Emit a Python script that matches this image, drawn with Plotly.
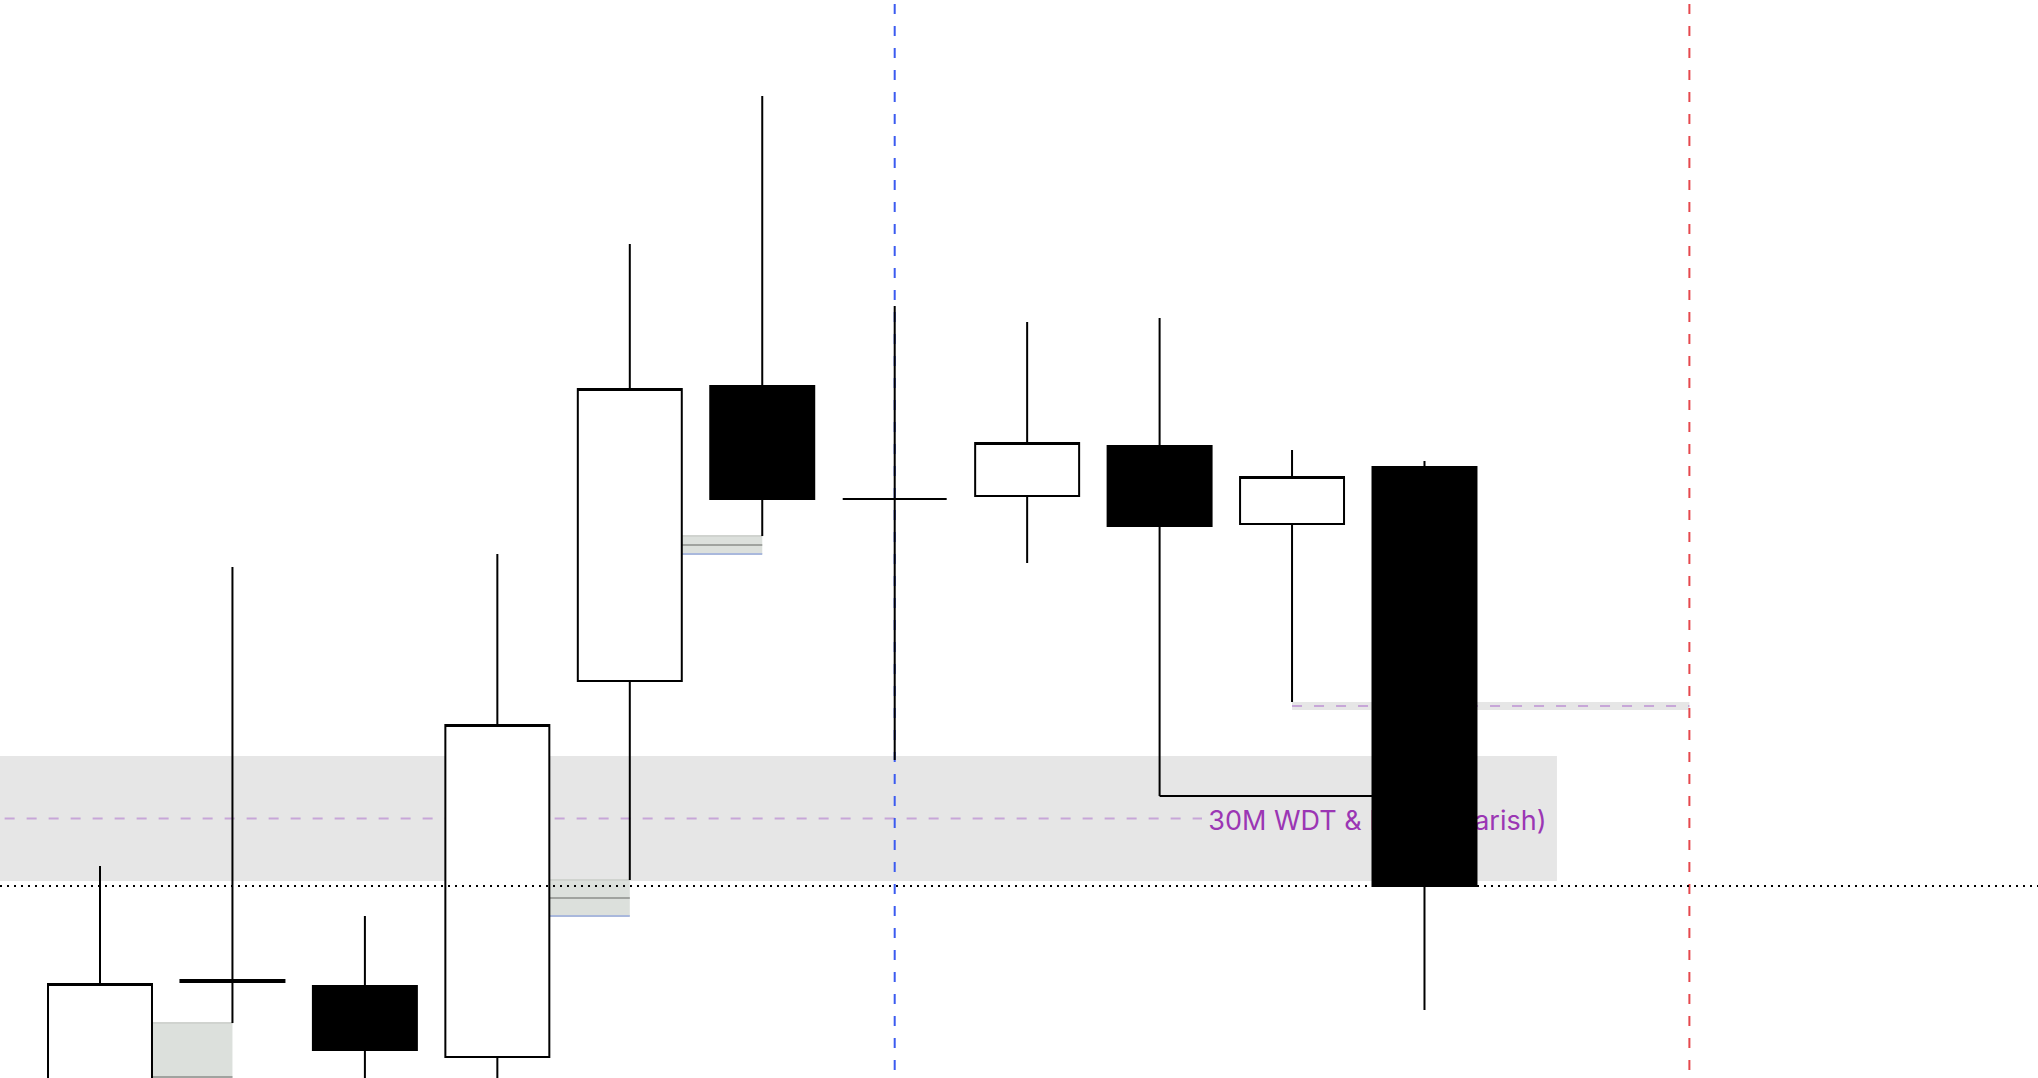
import plotly.graph_objects as go

# ---- data (30-minute candles; first one lies off the left edge) ----
times  = ["08:00", "08:30", "09:00", "09:30", "10:00", "10:30",
          "11:00", "11:30", "12:00", "12:30", "13:00", "13:30"]
opens  = [18005.0, 18020.5, 18055.0, 18053.5, 18035.75, 18129.75,
          18203.5, 18175.25, 18176.0, 18188.5, 18169.0, 18183.25]
highs  = [18017.25, 18083.5, 18158.25, 18071.0, 18161.5, 18239.0,
          18276.0, 18223.5, 18219.5, 18220.5, 18187.5, 18184.75]
lows   = [17990.0, 18005.0, 18044.25, 18025.0, 18022.0, 18080.0,
          18166.0, 18110.0, 18159.25, 18101.0, 18124.5, 18047.5]
closes = [18012.0, 18054.0, 18054.5, 18037.5, 18118.75, 18202.75,
          18175.25, 18175.25, 18189.25, 18168.5, 18180.75, 18078.5]

zone_low, zone_high = 18079.75, 18111.0          # 30M WDT & FVG zone
zone_label = "30M WDT & FVG (Bearish)"
dotted_level = 18078.5                            # dotted horizontal level
sweep_candle = 9                                  # low swept by last candle
level_candle = 10                                 # low marked with dashed band
session_bar = 7                                   # blue vertical marker (bar number)
end_bar = 13                                      # red vertical marker (bar number)

xpos = list(range(-1, len(times) - 1))
n = len(times)


def bar_x(b):
    return xpos[0] + b


# ---- layout helpers ----
body_half = 0.3925
x_left, x_right = -0.755, 14.632
y_bottom, y_top = 18030.5, 18300.0

shapes = []

# big grey zone + dashed midline
zone_mid = (zone_low + zone_high) / 2
zone_end = xpos[-1] + 1
shapes.append(dict(type="rect", xref="x", yref="y", x0=-2, x1=zone_end,
                   y0=zone_low, y1=zone_high, fillcolor="#e6e6e6",
                   line=dict(width=0), layer="below"))
shapes.append(dict(type="line", xref="x", yref="y", x0=-0.72, x1=8.32,
                   y0=zone_mid, y1=zone_mid, layer="below",
                   line=dict(color="#c7a6d8", width=2, dash="10px,12px")))

# bullish fair value gaps computed from the candles
for i in range(1, n - 1):
    prev_high = highs[i - 1]
    nxt_low = lows[i + 1]
    if nxt_low > prev_high:
        xa = xpos[i] + body_half
        xb = xpos[i + 1]
        mid = (prev_high + nxt_low) / 2
        shapes.append(dict(type="rect", xref="x", yref="y", x0=xa, x1=xb,
                           y0=prev_high, y1=nxt_low, fillcolor="#dce0dc",
                           line=dict(width=0), layer="below"))
        shapes.append(dict(type="line", xref="x", yref="y", x0=xa, x1=xb,
                           y0=nxt_low, y1=nxt_low, layer="below",
                           line=dict(color="#d0d3cf", width=2)))
        shapes.append(dict(type="line", xref="x", yref="y", x0=xa, x1=xb,
                           y0=mid, y1=mid, layer="below",
                           line=dict(color="#a0a39f", width=2)))
        shapes.append(dict(type="line", xref="x", yref="y", x0=xa, x1=xb,
                           y0=prev_high, y1=prev_high, layer="below",
                           line=dict(color="#a9b8dc", width=2)))

# dashed band at a candle low
lvl = lows[level_candle] - 1.0
shapes.append(dict(type="rect", xref="x", yref="y", x0=xpos[level_candle], x1=bar_x(end_bar),
                   y0=lvl - 1.0, y1=lvl + 1.0, fillcolor="#e6e6e6",
                   line=dict(width=0), layer="below"))
shapes.append(dict(type="line", xref="x", yref="y", x0=xpos[level_candle], x1=bar_x(end_bar),
                   y0=lvl, y1=lvl, layer="below",
                   line=dict(color="#c7a6d8", width=2, dash="10px,12px")))

# swept low line
sw = lows[sweep_candle]
shapes.append(dict(type="line", xref="x", yref="y", x0=xpos[sweep_candle], x1=xpos[-1],
                   y0=sw, y1=sw, layer="below", line=dict(color="#000000", width=2)))

# vertical markers (data-referenced so they sit above the grey zone)
for b, col in ((session_bar, "#3b5bf0"), (end_bar, "#e5484d")):
    shapes.append(dict(type="line", xref="x", yref="y", x0=bar_x(b), x1=bar_x(b),
                       y0=y_top - 1.0, y1=y_bottom - 5, layer="below",
                       line=dict(color=col, width=2, dash="10px,12px")))

# dotted level (above candles)
shapes.append(dict(type="line", xref="paper", yref="y", x0=0, x1=1,
                   y0=dotted_level, y1=dotted_level, layer="above",
                   line=dict(color="#000000", width=2, dash="2px,5px")))

fig = go.Figure()

# zone label as an invisible horizontal bar (drawn beneath the candles)
label_end = zone_end - 0.056
label_start = 8.0
fig.add_trace(go.Bar(
    orientation="h", y=[zone_mid - 0.6], x=[label_end - label_start], base=[label_start],
    width=[zone_high - zone_low], marker=dict(color="rgba(0,0,0,0)", line=dict(width=0)),
    text=[zone_label], textposition="inside", insidetextanchor="end",
    textangle=0, constraintext="none",
    insidetextfont=dict(family="Inter, Roboto, sans-serif", size=27, color="#9b36b4"),
    hoverinfo="skip", showlegend=False))

fig.add_trace(go.Candlestick(
    x=xpos, open=opens, high=highs, low=lows, close=closes,
    text=times, whiskerwidth=0,
    increasing=dict(fillcolor="#ffffff", line=dict(color="#000000", width=2)),
    decreasing=dict(fillcolor="#000000", line=dict(color="#000000", width=2)),
    hoverinfo="skip", showlegend=False))

fig.update_layout(
    width=2038, height=1078,
    margin=dict(l=0, r=0, t=0, b=0),
    paper_bgcolor="#ffffff", plot_bgcolor="#ffffff",
    showlegend=False, hovermode=False,
    boxgap=0.215, boxgroupgap=0,
    xaxis=dict(range=[x_left, x_right], visible=False, rangeslider=dict(visible=False),
               showgrid=False, zeroline=False),
    yaxis=dict(range=[y_bottom, y_top], visible=False, showgrid=False, zeroline=False),
    shapes=shapes,
)

fig.write_html("out.html", config={"displayModeBar": False},
               post_script="document.body.style.margin='0';document.body.style.overflow='hidden';")
